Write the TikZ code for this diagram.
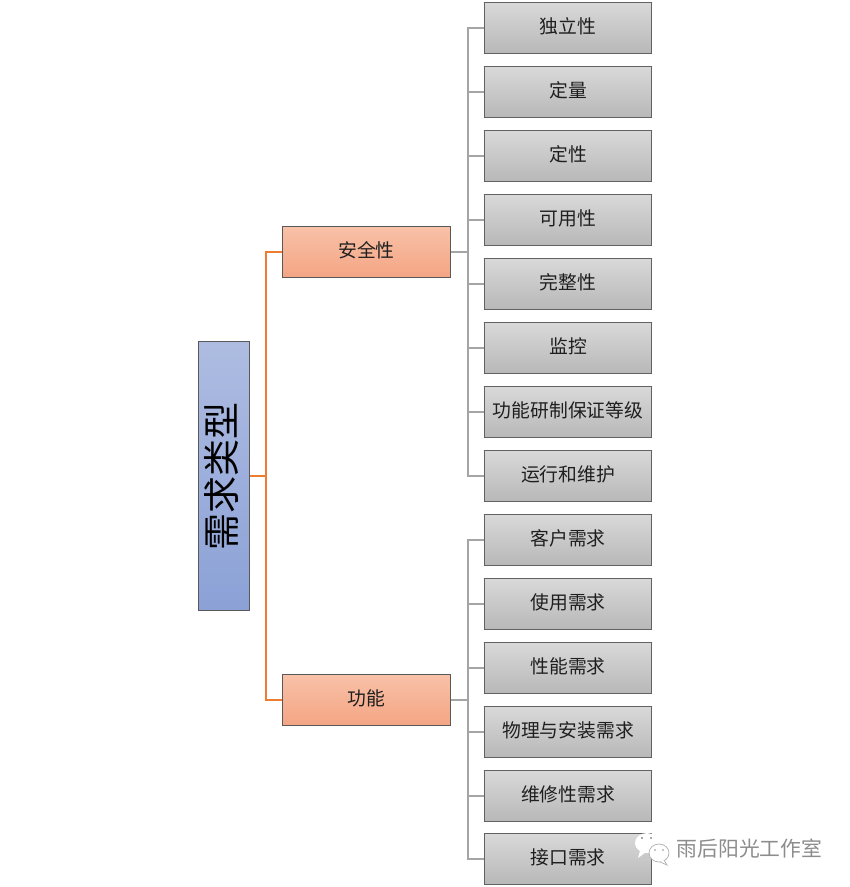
\documentclass[tikz,border=0pt]{standalone}
\usepackage{fontspec}
\setmainfont{Noto Sans CJK SC}
\tikzset{
    leafbox/.style={draw=black!62, line width=0.9pt, top color=black!15, bottom color=black!28,
        minimum width=167pt, minimum height=51pt, inner sep=0pt, text=black!88,
        text height=15pt, text depth=4pt, font=\fontsize{18.8pt}{20pt}\selectfont},
    midbox/.style={draw=black!65, line width=0.9pt, top color=orangetop, bottom color=orangelow,
        minimum width=168pt, minimum height=51pt, inner sep=0pt, text=black!88,
        text height=15pt, text depth=4pt, font=\fontsize{18.8pt}{20pt}\selectfont},
    rootbox/.style={draw=black!65, line width=0.9pt, top color=bluetop, bottom color=bluelow,
        minimum width=269pt, minimum height=51pt, inner sep=0pt, rotate=90,
        text height=26pt, text depth=4pt, font=\fontsize{37pt}{40pt}\selectfont},
    orangeline/.style={draw=orangeln, line width=2pt},
    grayline/.style={draw=grayln, line width=2pt}
}
\definecolor{orangetop}{HTML}{F8C1A8}
\definecolor{orangelow}{HTML}{F4A583}
\definecolor{bluetop}{HTML}{AEBCE1}
\definecolor{bluelow}{HTML}{8BA1D6}
\definecolor{orangeln}{HTML}{ED7D31}
\definecolor{grayln}{HTML}{A5A5A5}
\definecolor{markgray}{HTML}{8C8C8C}
\begin{document}
\begin{tikzpicture}[x=1pt, y=-1pt]
    \useasboundingbox (0,0) rectangle (850,887);

    % Raiz
    \node[rootbox] (tipo) at (224,476) {需求类型};

    % Ramos
    \node[midbox] (seg) at (366.5,252) {安全性};
    \node[midbox] (fun) at (366.5,700) {功能};

    % Folhas de seguranca
    \node[leafbox] (ind) at (568,28) {独立性};
    \node[leafbox] (quant) at (568,92) {定量};
    \node[leafbox] (qual) at (568,156) {定性};
    \node[leafbox] (disp) at (568,220) {可用性};
    \node[leafbox] (integ) at (568,284) {完整性};
    \node[leafbox] (mon) at (568,348) {监控};
    \node[leafbox] (nivel) at (568,412) {功能研制保证等级};
    \node[leafbox] (oper) at (568,476) {运行和维护};

    % Folhas de funcao
    \node[leafbox] (cli) at (568,540) {客户需求};
    \node[leafbox] (uso) at (568,604) {使用需求};
    \node[leafbox] (perf) at (568,668) {性能需求};
    \node[leafbox] (fis) at (568,732) {物理与安装需求};
    \node[leafbox] (man) at (568,796) {维修性需求};
    \node[leafbox] (intf) at (568,859) {接口需求};

    % Barramentos
    \coordinate (busraiz) at (266,476);
    \coordinate (busseg) at (468,252);
    \coordinate (busfun) at (468,700);

    % Linhas laranja
    \path[orangeline] (tipo.south) -- (busraiz);
    \path[orangeline] (busraiz) |- (seg.west);
    \path[orangeline] (busraiz) |- (fun.west);

    % Linhas cinza
    \path[grayline] (seg.east) -- (busseg);
    \path[grayline] (busseg) |- (ind.west);
    \path[grayline] (busseg) |- (quant.west);
    \path[grayline] (busseg) |- (qual.west);
    \path[grayline] (busseg) |- (disp.west);
    \path[grayline] (busseg) |- (integ.west);
    \path[grayline] (busseg) |- (mon.west);
    \path[grayline] (busseg) |- (nivel.west);
    \path[grayline] (busseg) |- (oper.west);
    \path[grayline] (fun.east) -- (busfun);
    \path[grayline] (busfun) |- (cli.west);
    \path[grayline] (busfun) |- (uso.west);
    \path[grayline] (busfun) |- (perf.west);
    \path[grayline] (busfun) |- (fis.west);
    \path[grayline] (busfun) |- (man.west);
    \path[grayline] (busfun) |- (intf.west);

    % Marca
    \fill[white] (647,843) ellipse (12 and 10);
    \fill[white] (640,851) -- (638,858) -- (646,852) -- cycle;
    \fill[markgray] (642,838) circle (1.1);
    \fill[markgray] (651,838) circle (1.1);
    \path[draw=markgray!70, fill=white, line width=0.7pt] (659,853) ellipse (10 and 9);
    \path[draw=markgray!70, fill=white, line width=0.7pt] (664,860) -- (667,865) -- (660,862);
    \fill[markgray] (655,850) circle (0.9);
    \fill[markgray] (663,850) circle (0.9);
    \node[text=markgray, font=\fontsize{20.8pt}{22pt}\selectfont, inner sep=0pt] (marca) at (749.5,849) {雨后阳光工作室};
\end{tikzpicture}
\end{document}
